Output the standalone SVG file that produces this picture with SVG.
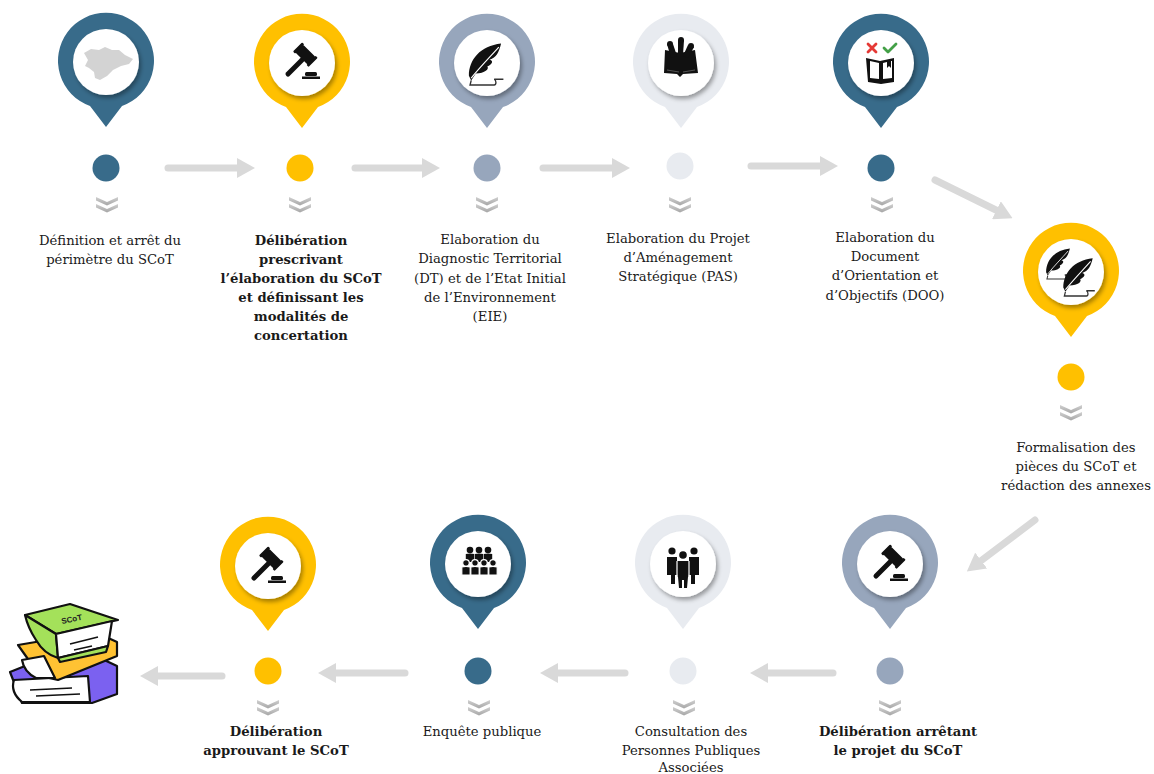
<svg xmlns="http://www.w3.org/2000/svg" xmlns:xlink="http://www.w3.org/1999/xlink" width="1154" height="774" viewBox="0 0 1154 774">
  <style>
    .lbl { font-family: "DejaVu Serif", "Liberation Serif", serif; font-size: 13.2px; fill: #1a1a1a; text-anchor: middle; }
    .b { font-weight: bold; }
    .dark { fill: #386B8A; }
    .yel { fill: #FFC000; }
    .gb { fill: #97A6BC; }
    .lt { fill: #E8EBF0; }
    .arrow { stroke: #D9D9D9; stroke-width: 7; stroke-linecap: round; fill: none; marker-end: url(#head); }
    .ink { fill: #111; }
  </style>
  <defs>
    <filter id="sh" x="-30%" y="-30%" width="160%" height="160%">
      <feDropShadow dx="2" dy="3" stdDeviation="2" flood-color="#000" flood-opacity="0.35"/>
    </filter>
    <marker id="head" markerUnits="userSpaceOnUse" markerWidth="18" markerHeight="20" refX="4" refY="10" orient="auto">
      <path d="M0,0 L18,10 L0,20 Z" fill="#D9D9D9"/>
    </marker>
    <linearGradient id="chev" x1="0" y1="0" x2="0" y2="1">
      <stop offset="0" stop-color="#D0D0D0"/>
      <stop offset="1" stop-color="#A6A6A6"/>
    </linearGradient>
    <!-- map pin outline: ring of radius 48 with a point below -->
    <path id="pin" d="M-16,45 A48,48 0 1 1 16,45 L0,66 Z"/>
    <g id="face">
      <circle r="33" cy="1" fill="#fff" filter="url(#sh)"/>
    </g>
    <!-- double chevron under each step dot -->
    <g id="chevs" fill="url(#chev)">
      <path d="M-11,0 L0,5 L11,0 L11,3.5 L0,8.5 L-11,3.5 Z"/>
      <path d="M-11,7 L0,12 L11,7 L11,10.5 L0,15.5 L-11,10.5 Z"/>
    </g>
    <!-- gavel -->
    <g id="gavel" class="ink">
      <line x1="-13" y1="13" x2="1" y2="-1" stroke="#111" stroke-width="5" stroke-linecap="round"/>
      <g transform="rotate(45 4 -6)">
        <rect x="-5" y="-12" width="18" height="11" rx="1.5"/>
        <rect x="-7" y="-13" width="3" height="13" rx="1"/>
        <rect x="12" y="-13" width="3" height="13" rx="1"/>
      </g>
      <rect x="4" y="11" width="12" height="4" rx="1.5"/>
      <rect x="1" y="15.5" width="18" height="2.5"/>
    </g>
    <!-- quill -->
    <g id="quill">
      <path class="ink" d="M-14,12 C-14,-2 -4,-14 14,-16 C12,-8 10,-4 4,-2 C8,-1 6,2 2,4 C4,6 0,10 -8,10 L-12,16 Z"/>
      <path d="M-12,14 C-4,4 4,-4 12,-13" stroke="#fff" stroke-width="1" fill="none"/>
      <path d="M-12,16 L-13,20 L8,20 C10,20 10,16 8,15 L16,15" stroke="#333" stroke-width="1.2" fill="none"/>
    </g>
    <!-- one person of the crowd -->
    <g id="person" class="ink">
      <circle cy="-4" r="3.3"/>
      <path d="M-4.2,0 Q0,-1.2 4.2,0 L4.2,8 L-4.2,8 Z"/>
    </g>
  </defs>

  <!-- connectors -->
  <g id="connectors">
    <line class="arrow" x1="168" y1="168" x2="241" y2="168"/>
    <line class="arrow" x1="355" y1="168" x2="426" y2="168"/>
    <line class="arrow" x1="543" y1="168" x2="616" y2="168"/>
    <line class="arrow" x1="751" y1="166" x2="824" y2="166"/>
    <line class="arrow" x1="935" y1="180" x2="1000" y2="212"/>
    <line class="arrow" x1="1035" y1="520" x2="978" y2="563"/>
    <line class="arrow" x1="833" y1="673" x2="764" y2="673"/>
    <line class="arrow" x1="625" y1="673" x2="554" y2="673"/>
    <line class="arrow" x1="405" y1="673" x2="332" y2="673"/>
    <line class="arrow" x1="222" y1="676" x2="154" y2="676"/>
  </g>

  <!-- step 1 -->
  <g id="step1">
    <use href="#pin" class="dark" x="106" y="61"/>
    <use href="#face" x="106" y="61"/>
    <path fill="#D3D3D3" d="M84,53 L91,49 L99,50 L105,47 L112,50 L119,50 L125,55 L133,59 L129,64 L121,66 L113,70 L107,76 L100,80 L95,78 L94,72 L89,68 L85,66 L88,60 Z"/>
    <circle class="dark" cx="106" cy="168" r="13.5"/>
    <use href="#chevs" x="107" y="197"/>
    <text class="lbl" x="110" y="245">Définition et arrêt du</text>
    <text class="lbl" x="110" y="264">périmètre du SCoT</text>
  </g>

  <!-- step 2 -->
  <g id="step2">
    <use href="#pin" class="yel" x="302" y="62"/>
    <use href="#face" x="302" y="62"/>
    <use href="#gavel" x="301" y="61"/>
    <circle class="yel" cx="300" cy="168" r="13.5"/>
    <use href="#chevs" x="300" y="197"/>
    <text class="lbl b" x="301" y="245">Délibération</text>
    <text class="lbl b" x="301" y="264">prescrivant</text>
    <text class="lbl b" x="301" y="283">l’élaboration du SCoT</text>
    <text class="lbl b" x="301" y="302">et définissant les</text>
    <text class="lbl b" x="301" y="321">modalités de</text>
    <text class="lbl b" x="301" y="340">concertation</text>
  </g>

  <!-- step 3 -->
  <g id="step3">
    <use href="#pin" class="gb" x="487" y="62"/>
    <use href="#face" x="487" y="62"/>
    <use href="#quill" transform="translate(485,62) scale(1.15)"/>
    <circle class="gb" cx="487" cy="168" r="13.5"/>
    <use href="#chevs" x="487" y="197"/>
    <text class="lbl" x="490" y="244">Elaboration du</text>
    <text class="lbl" x="490" y="263">Diagnostic Territorial</text>
    <text class="lbl" x="490" y="283">(DT) et de l’Etat Initial</text>
    <text class="lbl" x="490" y="302">de l’Environnement</text>
    <text class="lbl" x="490" y="321">(EIE)</text>
  </g>

  <!-- step 4 -->
  <g id="step4">
    <use href="#pin" class="lt" x="681" y="62"/>
    <use href="#face" x="681" y="62"/>
    <g class="ink">
      <path d="M665,50 L680,53 L695,50 L698,73 L683,74 L680,77 L677,74 L664,73 Z"/>
      <path d="M667,44 L673,44 L677,56 L671,58 Z"/>
      <path d="M678,40 L684,40 L683,55 L678,55 Z"/>
      <path d="M688,45 L694,47 L688,58 L683,56 Z"/>
      <circle cx="670" cy="44" r="3"/>
      <circle cx="681" cy="40" r="3"/>
      <circle cx="691" cy="46" r="3"/>
    </g>
    <path d="M667,70 L679,72 M683,72 L695,70" stroke="#666" stroke-width="0.8" fill="none"/>
    <circle class="lt" cx="680" cy="166" r="13.5"/>
    <use href="#chevs" x="680" y="197"/>
    <text class="lbl" x="678" y="243">Elaboration du Projet</text>
    <text class="lbl" x="678" y="262">d’Aménagement</text>
    <text class="lbl" x="678" y="281">Stratégique (PAS)</text>
  </g>

  <!-- step 5 -->
  <g id="step5">
    <use href="#pin" class="dark" x="881" y="62"/>
    <use href="#face" x="881" y="62"/>
    <path d="M868,44 L876,52 M876,44 L868,52" stroke="#E53935" stroke-width="2.8" stroke-linecap="round"/>
    <path d="M884,48 L888,52 L896,44" stroke="#43A047" stroke-width="2.8" stroke-linecap="round" stroke-linejoin="round" fill="none"/>
    <path class="ink" d="M866,58 L880,61 L894,58 L894,82 L881,84 L868,82 Z"/>
    <path d="M870,61 L879,63 L879,79 L870,78 Z M883,63 L887,62 L887,68 L889,66 L891,68 L891,61 L892,61 L892,78 L883,79 Z" fill="#fff"/>
    <circle class="dark" cx="881" cy="168" r="13.5"/>
    <use href="#chevs" x="882" y="197"/>
    <text class="lbl" x="885" y="242">Elaboration du</text>
    <text class="lbl" x="885" y="261">Document</text>
    <text class="lbl" x="885" y="280">d’Orientation et</text>
    <text class="lbl" x="885" y="300">d’Objectifs (DOO)</text>
  </g>

  <!-- step 6 -->
  <g id="step6">
    <use href="#pin" class="yel" x="1071" y="271"/>
    <use href="#face" x="1071" y="271"/>
    <use href="#quill" transform="translate(1058,262) scale(0.85)"/>
    <use href="#quill" transform="translate(1078,275) scale(1.05)"/>
    <circle class="yel" cx="1071" cy="377" r="13.5"/>
    <use href="#chevs" x="1071" y="405"/>
    <text class="lbl" x="1076" y="452">Formalisation des</text>
    <text class="lbl" x="1076" y="471">pièces du SCoT et</text>
    <text class="lbl" x="1076" y="490">rédaction des annexes</text>
  </g>

  <!-- step 7 -->
  <g id="step7">
    <use href="#pin" class="gb" x="890" y="563"/>
    <use href="#face" x="890" y="563"/>
    <use href="#gavel" x="889" y="563"/>
    <circle class="gb" cx="890" cy="671" r="13.5"/>
    <use href="#chevs" x="890" y="700"/>
    <text class="lbl b" x="898" y="736">Délibération arrêtant</text>
    <text class="lbl b" x="898" y="755">le projet du SCoT</text>
  </g>

  <!-- step 8 -->
  <g id="step8">
    <use href="#pin" class="lt" x="683" y="563"/>
    <use href="#face" x="683" y="563"/>
    <g class="ink">
      <circle cx="672" cy="551" r="3.6"/>
      <circle cx="694" cy="551" r="3.6"/>
      <circle cx="683" cy="555" r="3.8"/>
      <path d="M667,557 L677,557 L677,575 L675,575 L675,584 L671,584 L671,575 L667,575 Z"/>
      <path d="M689,557 L699,557 L699,575 L695,575 L695,584 L691,584 L691,575 L689,575 Z"/>
      <path d="M677,561 L689,561 Q690,575 688,577 L687,588 L684,588 L684,580 L682,580 L682,588 L679,588 L678,577 Q676,575 677,561 Z"/>
    </g>
    <path d="M677,561 L677,576 M689,561 L689,576" stroke="#fff" stroke-width="1.2"/>
    <circle class="lt" cx="683" cy="671" r="13.5"/>
    <use href="#chevs" x="684" y="700"/>
    <text class="lbl" x="691" y="736">Consultation des</text>
    <text class="lbl" x="691" y="755">Personnes Publiques</text>
    <text class="lbl" x="691" y="772">Associées</text>
  </g>

  <!-- step 9 -->
  <g id="step9">
    <use href="#pin" class="dark" x="478" y="563"/>
    <use href="#face" x="478" y="563"/>
    <use href="#person" x="470" y="554"/>
    <use href="#person" x="479" y="554"/>
    <use href="#person" x="488" y="554"/>
    <g stroke="#fff" stroke-width="1.2">
      <use href="#person" x="466" y="567"/>
      <use href="#person" x="475" y="567"/>
      <use href="#person" x="484" y="567"/>
      <use href="#person" x="493" y="567"/>
    </g>
    <circle class="dark" cx="478" cy="671" r="13.5"/>
    <use href="#chevs" x="479" y="700"/>
    <text class="lbl" x="482" y="736">Enquête publique</text>
  </g>

  <!-- step 10 -->
  <g id="step10">
    <use href="#pin" class="yel" x="268" y="565"/>
    <use href="#face" x="268" y="565"/>
    <use href="#gavel" x="267" y="565"/>
    <circle class="yel" cx="268" cy="671" r="13.5"/>
    <use href="#chevs" x="268" y="700"/>
    <text class="lbl b" x="276" y="736">Délibération</text>
    <text class="lbl b" x="276" y="755">approuvant le SCoT</text>
  </g>

  <!-- stack of SCoT books -->
  <g id="books" stroke="#111" stroke-width="2.2" stroke-linejoin="round">
    <!-- purple book (bottom) -->
    <path d="M10,672 L30,664 L100,658 L117,666 L117,694 L92,703 L22,703 Z" fill="#7B61F0"/>
    <path d="M14,680 L88,676 L90,702 L22,702 Q10,692 14,680 Z" fill="#fff"/>
    <path d="M30,690 L72,688 M36,696 L80,694" stroke-width="1.6"/>
    <!-- orange book (middle) -->
    <path d="M18,645 L95,632 L117,642 L117,656 L58,680 L40,676 Z" fill="#FFC233"/>
    <path d="M22,660 L44,656 L55,678 L36,678 Q24,672 22,660 Z" fill="#fff"/>
    <!-- green book (top) -->
    <path d="M25,615 L70,604 L118,620 L56,634 Z" fill="#A4E15A"/>
    <path d="M25,615 L56,634 L58,658 Q44,654 36,640 Q28,628 25,615 Z" fill="#A4E15A"/>
    <path d="M56,634 L112,621 L108,646 L58,658 Z" fill="#fff"/>
    <path d="M58,658 L108,646 L106,652 L60,662 Z" fill="#A4E15A"/>
    <path d="M70,644 L98,637 M74,650 L92,646" stroke-width="1.6"/>
    <text x="62" y="624" transform="rotate(-12 62 624)" font-family="Liberation Sans, sans-serif" font-size="8" font-weight="bold" stroke="none" fill="#222">SCoT</text>
  </g>
</svg>
